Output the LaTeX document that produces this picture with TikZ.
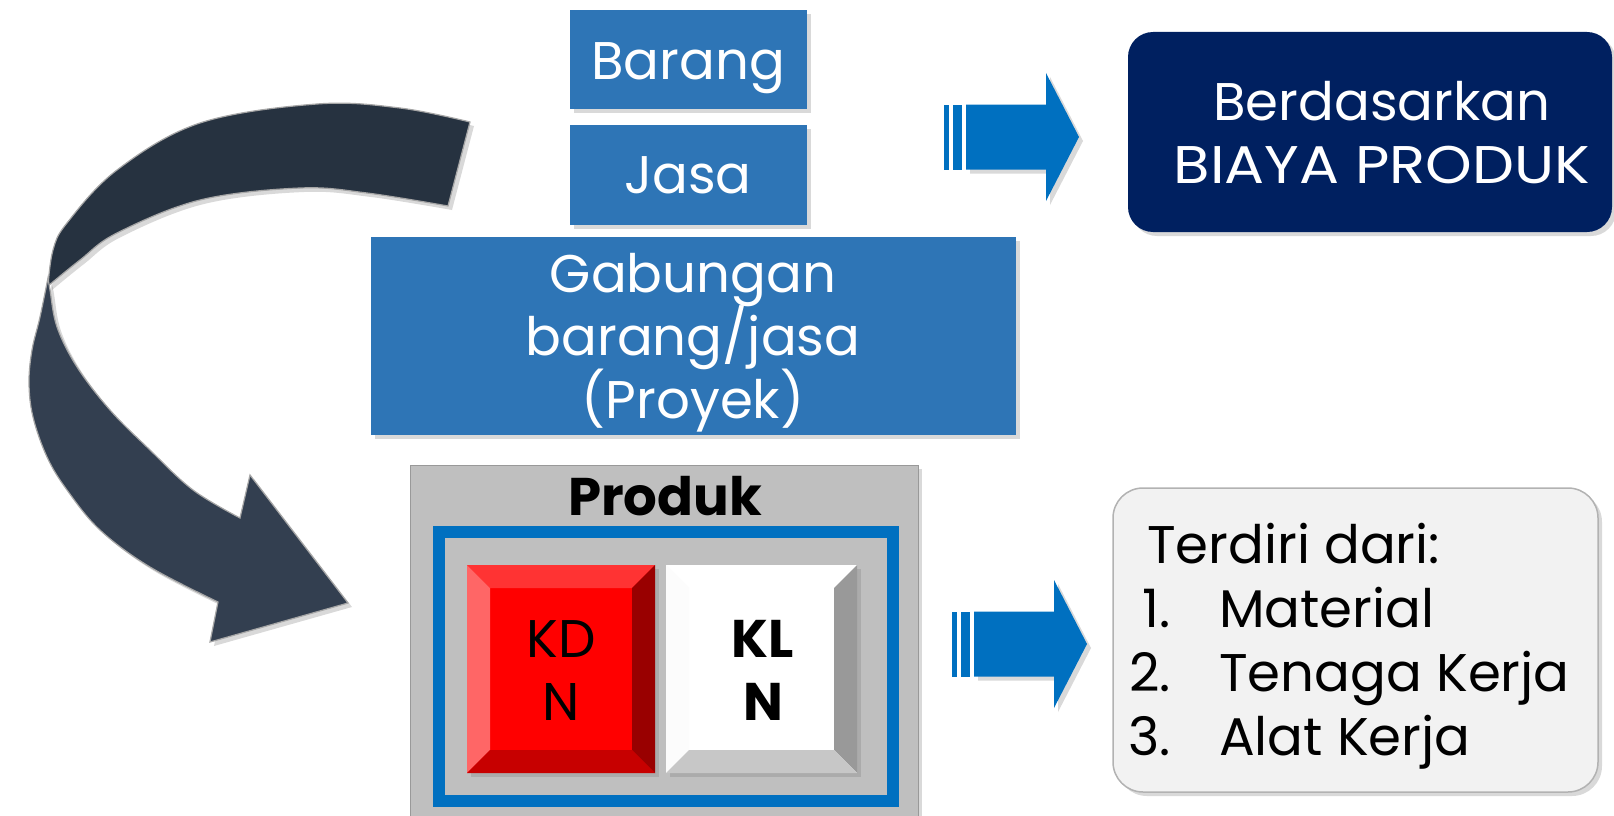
\documentclass[tikz,border=0pt]{standalone}
\usepackage{fontspec}
\setmainfont{Poppins}
\usetikzlibrary{shadows}

\definecolor{boxblue}{HTML}{2E75B6}
\definecolor{arrowblue}{HTML}{0070C0}
\definecolor{navy}{HTML}{002060}
\definecolor{darkband}{HTML}{263240}
\definecolor{lightband}{HTML}{333F50}
\definecolor{panelgrey}{HTML}{BFBFBF}
\definecolor{listgrey}{HTML}{F2F2F2}

% bevelled key: node, top, left, right, bottom
\newcommand{\keyfaces}[5]{
  \fill[#2] (#1.north west) -- (#1.north east) -- ([shift={(-23,23)}]#1.north east) -- ([shift={(23,23)}]#1.north west) -- cycle;
  \fill[#3] (#1.north west) -- ([shift={(23,23)}]#1.north west) -- ([shift={(23,-23)}]#1.south west) -- (#1.south west) -- cycle;
  \fill[#4] (#1.north east) -- ([shift={(-23,23)}]#1.north east) -- ([shift={(-23,-23)}]#1.south east) -- (#1.south east) -- cycle;
  \fill[#5] (#1.south west) -- ([shift={(23,-23)}]#1.south west) -- ([shift={(-23,-23)}]#1.south east) -- (#1.south east) -- cycle;
}

\tikzset{
  softshadow/.style={drop shadow={opacity=0.3, shadow xshift=4pt, shadow yshift=-4pt}},
  bluebox/.style={fill=boxblue, softshadow, inner sep=0pt, outer sep=0pt},
  txt/.style={font=\fontsize{53}{63}\selectfont, anchor=base, inner sep=0pt},
  keybox/.style={softshadow, inner sep=0pt, outer sep=0pt, minimum height=208},
  blockarrow/.pic={
    \fill[arrowblue, softshadow] (22,-32.5) -- (102,-32.5) -- (102,-64) -- (135,0) -- (102,64) -- (102,32.5) -- (22,32.5) -- cycle;
    \fill[arrowblue] (0,-32.5) rectangle (5,32.5);
    \fill[arrowblue] (9,-32.5) rectangle (18,32.5);
  }
}

\begin{document}
\begin{tikzpicture}[x=1pt, y=-1pt]
  \useasboundingbox (0,0) rectangle (1614,816);

  % curved arrow, two twisted bands
  \filldraw[darkband, draw=gray!70, line width=1.2pt, softshadow]
    plot[smooth, tension=0.6] coordinates {(48,286) (53,250) (67,223) (117,170) (200,123) (317,104) (400,108) (470,122)}
    -- plot[smooth, tension=0.6] coordinates {(448,206) (367,193) (300,188) (200,200) (117,233) (80,260) (48,286)} -- cycle;
  \filldraw[lightband, draw=gray!70, line width=1.2pt, softshadow]
    plot[smooth, tension=0.6] coordinates {(48,278) (40,317) (32,350) (29,383) (33,417) (47,457) (67,490) (100,530) (150,567) (218,602)}
    -- (210,642) -- (348,603) -- (250,475)
    -- plot[smooth, tension=0.6] coordinates {(240,518) (193,490) (150,450) (110,410) (77,367) (57,327) (50,290) (48,278)} -- cycle;

  % product kinds
  \node[bluebox, minimum width=237, minimum height=99] (barang) at (688.5,59.5) {};
  \node[bluebox, minimum width=237, minimum height=100] (jasa) at (688.5,175) {};
  \node[bluebox, minimum width=645, minimum height=198] (gabungan) at (693.5,336) {};
  \node[txt, white] (tBarang) at (688,79) {Barang};
  \node[txt, white] (tJasa) at (688,193) {Jasa};
  \node[txt, white] (tGab1) at (693,292) {Gabungan};
  \node[txt, white] (tGab2) at (693,355) {barang/jasa};
  \node[txt, white] (tGab3) at (693,418) {(Proyek)};

  % produk panel
  \node[fill=panelgrey, draw=gray!80, softshadow, minimum width=508, minimum height=365, inner sep=0pt] (produk) at (664,647.5) {};
  \node[txt, font=\fontsize{53}{63}\selectfont\bfseries] (tProduk) at (665,515) {Produk};
  \node[draw=arrowblue, line width=12pt, minimum width=454, minimum height=269, inner sep=0pt] (frame) at (666,666.5) {};
  \node[keybox, fill=red, minimum width=188] (kdn) at (561,669) {};
  \keyfaces{kdn}{red!80!white}{red!60!white}{red!60!black}{red!78!black}
  \node[keybox, fill=white, minimum width=191] (kln) at (761.5,669) {};
  \keyfaces{kln}{white}{white!99!black}{white!60!black}{white!78!black}
  \node[txt] (tKD) at (561,657) {KD};
  \node[txt] (tKDN) at (561,720) {N};
  \node[txt, font=\fontsize{53}{63}\selectfont\bfseries] (tKL) at (763,657) {KL};
  \node[txt, font=\fontsize{53}{63}\selectfont\bfseries] (tKLN) at (763,720) {N};

  % arrows
  \pic (arrTop) at (944,137) {blockarrow};
  \pic (arrBot) at (952,644) {blockarrow};

  % right boxes
  \node[fill=navy, rounded corners=25pt, softshadow, minimum width=484, minimum height=200, inner sep=0pt] (biaya) at (1370,132) {};
  \node[txt, white] (tBiaya1) at (1382,120) {Berdasarkan};
  \node[txt, white, xscale=1.12, transform shape] (tBiaya2) at (1382,183) {BIAYA PRODUK};

  \node[fill=listgrey, draw=gray!60, line width=1.5pt, rounded corners=30pt, softshadow, minimum width=485, minimum height=304, inner sep=0pt] (terdiri) at (1355.5,640) {};
  \node[txt, anchor=base west] (tTerdiri) at (1147,563) {Terdiri dari:};
  \node[txt, anchor=base east] (n1) at (1171,627) {1.};
  \node[txt, anchor=base west] (i1) at (1219,627) {Material};
  \node[txt, anchor=base east] (n2) at (1171,691) {2.};
  \node[txt, anchor=base west] (i2) at (1219,691) {Tenaga Kerja};
  \node[txt, anchor=base east] (n3) at (1171,755) {3.};
  \node[txt, anchor=base west] (i3) at (1219,755) {Alat Kerja};
\end{tikzpicture}
\end{document}
